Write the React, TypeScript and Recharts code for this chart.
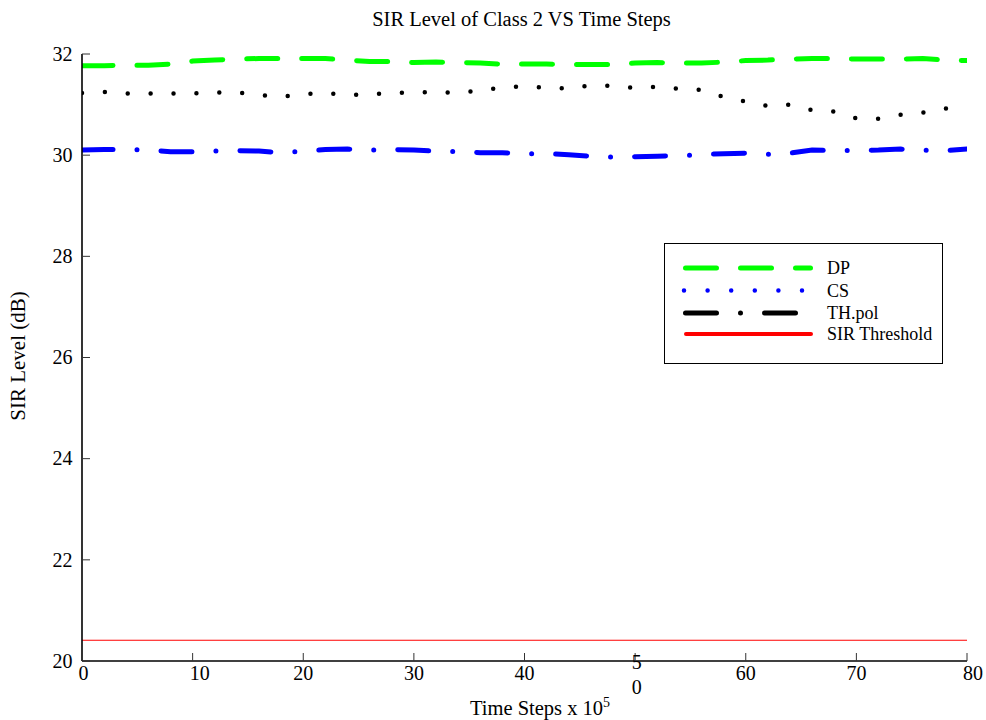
import React from "react";
import { LineChart, Line, XAxis, YAxis, ReferenceLine, Legend } from "recharts";

// time axis (x 10^5 steps)
const timeSteps = [
  0, 2, 4, 6, 8, 10, 12, 14, 16, 18, 20, 22, 24, 26, 28, 30, 32, 34, 36, 38, 40,
  42, 44, 46, 48, 50, 52, 54, 56, 58, 60, 62, 64, 66, 68, 70, 72, 74, 76, 78, 80,
];

const dpValues = [
  31.77, 31.77, 31.78, 31.78, 31.8, 31.86, 31.88, 31.9, 31.91, 31.91, 31.91,
  31.91, 31.88, 31.85, 31.85, 31.83, 31.84, 31.83, 31.82, 31.8, 31.8, 31.8,
  31.79, 31.79, 31.79, 31.82, 31.83, 31.82, 31.82, 31.84, 31.87, 31.88, 31.9,
  31.91, 31.91, 31.9, 31.9, 31.9, 31.91, 31.88, 31.87,
];

const csValues = [
  30.1, 30.11, 30.11, 30.1, 30.07, 30.07, 30.08, 30.09, 30.08, 30.05, 30.08,
  30.11, 30.12, 30.1, 30.11, 30.1, 30.08, 30.07, 30.05, 30.05, 30.03, 30.03,
  30.01, 29.98, 29.96, 29.97, 29.98, 29.99, 30.01, 30.03, 30.04, 30.02, 30.04,
  30.1, 30.09, 30.09, 30.1, 30.12, 30.1, 30.09, 30.12,
];

const thPolValues = [
  31.23, 31.25, 31.22, 31.22, 31.22, 31.22, 31.24, 31.24, 31.19, 31.15, 31.21,
  31.23, 31.19, 31.2, 31.23, 31.24, 31.25, 31.23, 31.28, 31.34, 31.36, 31.33,
  31.32, 31.38, 31.37, 31.33, 31.35, 31.31, 31.29, 31.15, 31.06, 30.97, 31.0,
  30.89, 30.86, 30.73, 30.72, 30.8, 30.84, 30.92, 30.98,
];

const sirThreshold = 20.41;

const xTicks = [0, 10, 20, 30, 40, 50, 60, 70, 80];
const yTicks = [20, 22, 24, 26, 28, 30, 32];

const legendItems = ["DP", "CS", "TH.pol", "SIR Threshold"];

const FONT = "'Liberation Serif', 'Times New Roman', serif";
const TICK_LEN = 8;

const data = timeSteps.map((t, i) => ({
  t,
  dp: dpValues[i],
  cs: csValues[i],
  th: thPolValues[i],
}));

// matlab-ish label nudges
const xLabelShift: Record<number, number> = { 0: 1.5, 10: 7, 80: 6 };

const BottomTick = (props: any) => {
  const { x, y, payload } = props;
  const v = payload.value;
  const cx = x + (xLabelShift[v] || 0);
  return (
    <g>
      <line x1={x} x2={x} y1={y} y2={y - TICK_LEN} stroke="#333" strokeWidth={1} />
      {v === 50 ? (
        <>
          <text x={cx + 1.5} y={y + 8} textAnchor="middle" fontSize={20} fontFamily={FONT} fill="#000">5</text>
          <text x={cx + 1.5} y={y + 33} textAnchor="middle" fontSize={20} fontFamily={FONT} fill="#000">0</text>
        </>
      ) : (
        <text x={cx} y={y + 19} textAnchor="middle" fontSize={20} fontFamily={FONT} fill="#000">{v}</text>
      )}
    </g>
  );
};

const TopTick = (props: any) => {
  const { x, y } = props;
  return <line x1={x} x2={x} y1={y} y2={y + TICK_LEN} stroke="#333" strokeWidth={1} />;
};

const LeftTick = (props: any) => {
  const { x, y, payload } = props;
  return (
    <g>
      <line x1={x} x2={x + TICK_LEN} y1={y} y2={y} stroke="#333" strokeWidth={1} />
      <text x={x - 9.5} y={y + 6.7} textAnchor="end" fontSize={20} fontFamily={FONT} fill="#000">{payload.value}</text>
    </g>
  );
};

const RightTick = (props: any) => {
  const { x, y } = props;
  return <line x1={x} x2={x - TICK_LEN} y1={y} y2={y} stroke="#333" strokeWidth={1} />;
};

const LegendBox = () => {
  const rows = [268, 290.5, 313, 334].map((r) => r - 243);
  return (
    <svg width={280} height={122} style={{ display: "block" }}>
      <rect x={0.5} y={0.5} width={278} height={120} fill="#fff" stroke="#000" strokeWidth={1} />
      <line x1={21.5} x2={146.5} y1={rows[0]} y2={rows[0]} stroke="#00ff00" strokeWidth={5} strokeLinecap="round" strokeDasharray="31 24" />
      <line x1={20} x2={138} y1={rows[1]} y2={rows[1]} stroke="#0000ff" strokeWidth={4.5} strokeLinecap="round" strokeDasharray="0 23.6" />
      <line x1={21.5} x2={131.5} y1={rows[2]} y2={rows[2]} stroke="#000" strokeWidth={5} strokeLinecap="round" strokeDasharray="31 24 0 24" />
      <line x1={22} x2={147} y1={rows[3]} y2={rows[3]} stroke="#ff0000" strokeWidth={4} strokeLinecap="round" />
      {legendItems.map((name, i) => (
        <text key={name} x={163} y={rows[i] + 6} fontSize={18} fontFamily={FONT} fill="#000">{name}</text>
      ))}
    </svg>
  );
};

export default function App() {
  return (
    <div style={{ position: "absolute", left: 0, top: 0, width: 986, height: 720, background: "#fff" }}>
      <LineChart width={986} height={720} data={data} margin={{ top: 54, right: 19, bottom: 0, left: 0 }}>
        <XAxis
          dataKey="t"
          type="number"
          domain={[0, 80]}
          ticks={xTicks}
          allowDataOverflow
          height={59}
          tickSize={0}
          tickMargin={0}
          tickLine={false}
          axisLine={{ stroke: "#000", strokeWidth: 1.6 }}
          tick={<BottomTick />}
          interval={0}
        />
        <XAxis
          xAxisId="top"
          orientation="top"
          type="number"
          domain={[0, 80]}
          ticks={xTicks}
          allowDataOverflow
          height={0}
          tickSize={0}
          tickMargin={0}
          tickLine={false}
          axisLine={{ stroke: "#000", strokeWidth: 1.6 }}
          tick={<TopTick />}
          interval={0}
        />
        <YAxis
          type="number"
          domain={[20, 32]}
          ticks={yTicks}
          allowDataOverflow
          width={82}
          tickSize={0}
          tickMargin={0}
          tickLine={false}
          axisLine={{ stroke: "#000", strokeWidth: 1.6 }}
          tick={<LeftTick />}
          interval={0}
        />
        <YAxis
          yAxisId="right"
          orientation="right"
          type="number"
          domain={[20, 32]}
          ticks={yTicks}
          allowDataOverflow
          width={0}
          tickSize={0}
          tickMargin={0}
          tickLine={false}
          axisLine={{ stroke: "#000", strokeWidth: 1.6 }}
          tick={<RightTick />}
          interval={0}
        />
        <Line
          dataKey="dp"
          stroke="#00ff00"
          strokeWidth={5}
          strokeLinecap="round"
          strokeDasharray="31 24"
          dot={false}
          activeDot={false}
          isAnimationActive={false}
        />
        <Line
          dataKey="cs"
          stroke="#0000ff"
          strokeWidth={5}
          strokeLinecap="round"
          strokeDasharray="31 24 0 24"
          dot={false}
          activeDot={false}
          isAnimationActive={false}
        />
        <Line
          dataKey="th"
          stroke="#000"
          strokeWidth={4.5}
          strokeLinecap="round"
          strokeDasharray="0 22.9"
          dot={false}
          activeDot={false}
          isAnimationActive={false}
        />
        <ReferenceLine y={sirThreshold} stroke="#ff0000" strokeWidth={1.2} />
        <Legend
          layout="vertical"
          align="center"
          verticalAlign="middle"
          content={<LegendBox />}
          wrapperStyle={{ left: 664, top: 243, width: 280, height: 122 }}
        />
      </LineChart>
      <svg
        width={986}
        height={720}
        style={{ position: "absolute", left: 0, top: 0, pointerEvents: "none" }}
      >
        <text x={521.5} y={26} textAnchor="middle" fontSize={20.5} fontFamily={FONT} fill="#000">
          SIR Level of Class 2 VS Time Steps
        </text>
        <text
          x={25}
          y={356}
          textAnchor="middle"
          fontSize={21}
          fontFamily={FONT}
          fill="#000"
          transform="rotate(-90 25 356)"
        >
          SIR Level (dB)
        </text>
        <text x={470} y={715} fontSize={20.5} fontFamily={FONT} fill="#000">
          Time Steps x 10
          <tspan fontSize={14} dy={-8}>5</tspan>
        </text>
      </svg>
    </div>
  );
}
